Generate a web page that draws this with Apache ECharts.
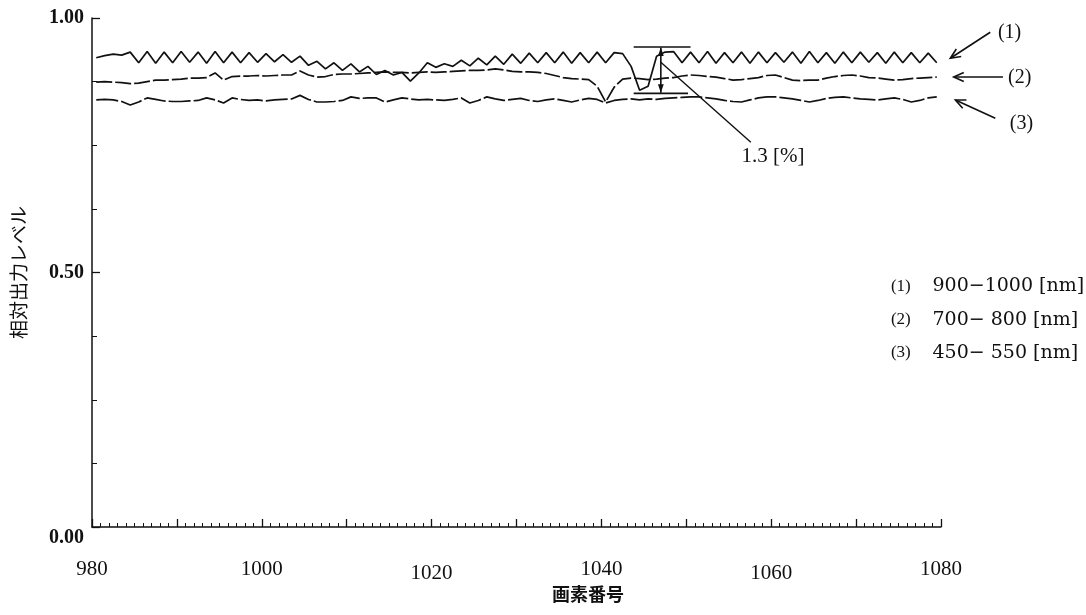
<!DOCTYPE html>
<html>
<head>
<meta charset="utf-8">
<script src="https://cdn.jsdelivr.net/npm/echarts@6/dist/echarts.min.js"></script>
<style>
  html, body { margin: 0; padding: 0; background: #fff; }
  #chart { width: 1086px; height: 615px; }
</style>
</head>
<body>
<div id="chart"></div>
<script>
// Pixel numbers 980..1079 (each pixel plotted at its centre, n + 0.5)
const pixelNo = [];
for (let n = 980; n < 1080; n++) pixelNo.push(n);

// (1) 900-1000 nm relative output level
const band1 = [
  0.922, 0.926, 0.929, 0.927, 0.933, 0.912, 0.934, 0.911, 0.933, 0.912,
  0.934, 0.913, 0.933, 0.911, 0.934, 0.912, 0.933, 0.912, 0.932, 0.913,
  0.930, 0.914, 0.928, 0.913, 0.925, 0.907, 0.915, 0.900, 0.912, 0.897,
  0.910, 0.894, 0.905, 0.889, 0.897, 0.888, 0.893, 0.876, 0.892, 0.912,
  0.903, 0.910, 0.905, 0.917, 0.906, 0.921, 0.908, 0.925, 0.909, 0.929,
  0.911, 0.931, 0.912, 0.932, 0.912, 0.933, 0.911, 0.932, 0.912, 0.933,
  0.912, 0.932, 0.930, 0.905, 0.858, 0.866, 0.925, 0.933, 0.934, 0.912,
  0.933, 0.912, 0.934, 0.911, 0.932, 0.912, 0.933, 0.911, 0.933, 0.912,
  0.932, 0.913, 0.933, 0.911, 0.934, 0.912, 0.932, 0.911, 0.933, 0.912,
  0.933, 0.913, 0.932, 0.911, 0.933, 0.912, 0.932, 0.912, 0.931, 0.912
];

// (2) 700-800 nm relative output level
const band2 = [
  0.874, 0.875, 0.874, 0.873, 0.871, 0.872, 0.875, 0.878, 0.878, 0.879,
  0.880, 0.882, 0.882, 0.883, 0.892, 0.878, 0.885, 0.886, 0.886, 0.887,
  0.886, 0.887, 0.888, 0.888, 0.896, 0.888, 0.884, 0.885, 0.889, 0.890,
  0.890, 0.891, 0.892, 0.893, 0.894, 0.893, 0.893, 0.892, 0.893, 0.894,
  0.893, 0.894, 0.895, 0.896, 0.897, 0.897, 0.898, 0.900, 0.898, 0.895,
  0.894, 0.894, 0.893, 0.891, 0.887, 0.883, 0.881, 0.880, 0.879, 0.866,
  0.835, 0.864, 0.880, 0.882, 0.881, 0.879, 0.880, 0.882, 0.883, 0.886,
  0.888, 0.887, 0.885, 0.884, 0.881, 0.878, 0.879, 0.881, 0.883, 0.887,
  0.888, 0.883, 0.878, 0.877, 0.878, 0.878, 0.882, 0.885, 0.887, 0.888,
  0.886, 0.883, 0.882, 0.880, 0.878, 0.879, 0.881, 0.882, 0.883, 0.884
];

// (3) 450-550 nm relative output level
const band3 = [
  0.839, 0.840, 0.839, 0.836, 0.829, 0.835, 0.843, 0.840, 0.837, 0.836,
  0.836, 0.837, 0.838, 0.843, 0.839, 0.833, 0.843, 0.840, 0.838, 0.839,
  0.837, 0.839, 0.840, 0.841, 0.848, 0.840, 0.835, 0.835, 0.836, 0.838,
  0.845, 0.842, 0.843, 0.843, 0.835, 0.839, 0.843, 0.841, 0.839, 0.840,
  0.839, 0.838, 0.840, 0.843, 0.833, 0.838, 0.845, 0.841, 0.838, 0.840,
  0.842, 0.838, 0.836, 0.839, 0.841, 0.838, 0.835, 0.839, 0.842, 0.840,
  0.833, 0.838, 0.840, 0.841, 0.839, 0.841, 0.840, 0.842, 0.843, 0.844,
  0.845, 0.845, 0.843, 0.841, 0.838, 0.836, 0.835, 0.839, 0.843, 0.845,
  0.845, 0.843, 0.841, 0.838, 0.835, 0.838, 0.842, 0.844, 0.845, 0.843,
  0.841, 0.840, 0.839, 0.841, 0.843, 0.840, 0.835, 0.838, 0.843, 0.845
];

const xTickLabels = [980, 1000, 1020, 1040, 1060, 1080];
const xLowered = [1020, 1060];
const bandTags = ['(1)', '(2)', '(3)'];
const bandRanges = ['900\u22121000 [nm]', '700\u2212 800 [nm]', '450\u2212 550 [nm]'];
const rippleText = '1.3 [%]';
const xName = '画素番号';
const yName = '相対出力レベル';

const ink = '#111';
const serif = '"Liberation Serif", "Times New Roman", serif';
const wideSerif = '"DejaVu Serif", serif';
const cjk = '"Noto Sans CJK JP", "Noto Sans CJK SC", sans-serif';

const chart = echarts.init(document.getElementById('chart'), null, { renderer: 'canvas' });

function bandSeries(values, dash) {
  return {
    type: 'line',
    data: pixelNo.map((n, i) => [n + 0.5, values[i]]),
    symbol: 'none',
    smooth: false,
    silent: true,
    lineStyle: { color: ink, width: 1.7, type: dash }
  };
}

chart.setOption({
  animation: false,
  backgroundColor: '#fff',
  grid: { left: 92, right: 145, top: 18, bottom: 88, containLabel: false, outerBoundsMode: 'none' },
  xAxis: {
    type: 'value',
    min: 980,
    max: 1080,
    interval: 10,
    axisLine: { lineStyle: { color: ink, width: 1.5 } },
    axisTick: { inside: true, length: 8, lineStyle: { color: ink, width: 1.3 } },
    minorTick: { show: true, splitNumber: 10, length: 4, lineStyle: { color: ink, width: 1 } },
    splitLine: { show: false },
    minorSplitLine: { show: false },
    axisLabel: {
      margin: 32,
      formatter: v => {
        if (!xTickLabels.includes(v)) return '';
        return xLowered.includes(v) ? '{lo|' + v + '}' : '{n|' + v + '}';
      },
      rich: {
        n: { fontFamily: serif, fontSize: 21, color: ink },
        lo: { fontFamily: serif, fontSize: 21, color: ink, padding: [4, 0, 0, 0] }
      }
    }
  },
  yAxis: {
    type: 'value',
    min: 0,
    max: 1,
    interval: 0.5,
    name: yName,
    nameLocation: 'middle',
    nameGap: 64,
    nameRotate: 90,
    nameTextStyle: { fontFamily: cjk, fontSize: 19, color: ink },
    axisLine: { show: true, lineStyle: { color: ink, width: 1.5 } },
    axisTick: { show: true, inside: true, length: 8, lineStyle: { color: ink, width: 1.3 } },
    minorTick: { show: true, splitNumber: 4, length: 5, lineStyle: { color: ink, width: 1 } },
    splitLine: { show: false },
    minorSplitLine: { show: false },
    axisLabel: {
      margin: 8,
      formatter: v => v === 0 ? '{lo|0.00}' : '{n|' + v.toFixed(2) + '}',
      rich: {
        n: { fontFamily: serif, fontSize: 20, fontWeight: 'bold', color: ink },
        lo: { fontFamily: serif, fontSize: 20, fontWeight: 'bold', color: ink, padding: [22, 0, 0, 0] }
      }
    }
  },
  series: [
    bandSeries(band1, 'solid'),
    bandSeries(band2, [16, 3]),
    bandSeries(band3, [22, 3])
  ]
});

// Annotations: ripple bracket, pointer arrows and band key
const P = (x, y) => chart.convertToPixel({ gridIndex: 0 }, [x, y]);
const g = [];

function seg(a, b, w) {
  g.push({ type: 'line', silent: true,
    shape: { x1: a[0], y1: a[1], x2: b[0], y2: b[1] },
    style: { stroke: ink, lineWidth: w || 1.5 } });
}
function head(tip, from, len, half, filled) {
  const dx = from[0] - tip[0], dy = from[1] - tip[1];
  const L = Math.hypot(dx, dy), ux = dx / L, uy = dy / L;
  const c = Math.cos(half), s = Math.sin(half);
  const p1 = [tip[0] + len * (ux * c - uy * s), tip[1] + len * (ux * s + uy * c)];
  const p2 = [tip[0] + len * (ux * c + uy * s), tip[1] + len * (-ux * s + uy * c)];
  if (filled) {
    g.push({ type: 'polygon', silent: true, shape: { points: [tip, p1, p2] }, style: { fill: ink } });
  } else {
    g.push({ type: 'polyline', silent: true, shape: { points: [p1, tip, p2] },
      style: { stroke: ink, lineWidth: 1.6, fill: null } });
  }
}
function arrow(from, tip) {
  seg(from, tip, 1.6);
  head(tip, from, 11, 0.42, false);
}
function txt(p, text, font, size, align, weight) {
  g.push({ type: 'text', silent: true, x: p[0], y: p[1],
    style: { text: text, fontFamily: font, fontSize: size, fontWeight: weight || 'normal',
      fill: ink, align: align || 'left', verticalAlign: 'middle' } });
}

// ripple bracket on band (1)
seg(P(1043.8, 0.943), P(1050.5, 0.943), 1.7);
seg(P(1043.8, 0.852), P(1050.2, 0.852), 1.7);
const aTop = P(1047, 0.942), aBot = P(1047, 0.853);
seg(aTop, aBot, 1.6);
head(aTop, aBot, 9, 0.33, true);
head(aBot, aTop, 9, 0.33, true);
seg(P(1047, 0.913), P(1057.6, 0.756), 1.4);
txt(P(1060.2, 0.728), rippleText, serif, 21, 'center');

// pointers at the line ends
arrow(P(1085.8, 0.972), P(1081.1, 0.921));
arrow(P(1087.3, 0.884), P(1081.5, 0.884));
arrow(P(1086.4, 0.803), P(1081.7, 0.839));
txt(P(1086.7, 0.972), bandTags[0], serif, 20);
txt(P(1087.9, 0.882), bandTags[1], serif, 20);
txt(P(1088.1, 0.793), bandTags[2], serif, 20);

// band key
const keyRows = [0.473, 0.407, 0.342];
keyRows.forEach((y, i) => {
  txt(P(1074.1, y), bandTags[i], serif, 17);
  txt(P(1079.0, y), bandRanges[i], wideSerif, 19);
});

// x-axis title
const xt = P(1067.0, 0);
txt([588, xt[1] + 67], xName, cjk, 18, 'center', 'bold');

chart.setOption({ graphic: g });
</script>
</body>
</html>
